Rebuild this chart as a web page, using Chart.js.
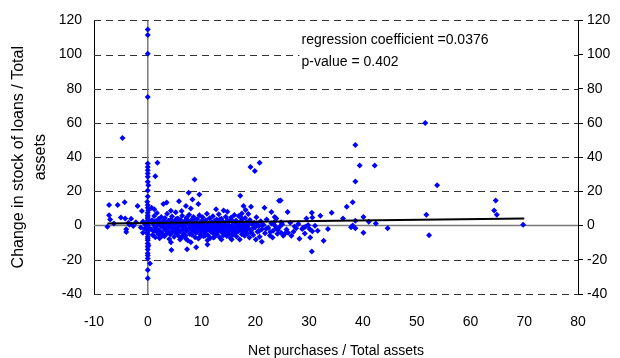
<!DOCTYPE html>
<html>
<head>
<meta charset="utf-8">
<script src="https://cdn.jsdelivr.net/npm/chart.js@4.4.1/dist/chart.umd.min.js"></script>
<style>
  html, body { margin: 0; padding: 0; background: #fff; }
  #wrap { width: 620px; height: 358px; }
</style>
</head>
<body>
<div id="wrap"><canvas id="scatterChart"></canvas></div>
<script>
// x: net purchases / total assets, y: change in stock of loans / total assets
const netPurchases = [
    // column at zero
    0, 0, 0, 0, 0, 0, 0, 0, 0, 0, 0.1, 0, 0, -0.1, 0, 0, 0.1, 0, 0, 0, 0, 0, 0.1, 0, 0,
    0, 0, 0, 0.1, 0, 0, -0.1, 0, 0, 0, 0, 0, 0.1, 0, 0, 0, 0, 0, 0.4, 0, 0,
    // left of zero
    -7.5, -7.2, -7.2, -7.0, -5.6, -5.0, -4.7, -4.3, -4.2, -4.0, -4.0, -3.6, -3.1, -2.7, -1.9, -1.3,
    -1.1, -0.9, -0.9, -0.6, -0.5, -3.4, -2.2, -6.3,
    // scattered upper / lower points of the cluster
    1.8, 1.4, 8.7, 0.7, 1.2, 2.9, 3.5, 5.8, 8.3, 9.4, 7.6, 9.6, 7.1, 8.0, 4.3, 6.3, 4.4, 7.3, 9.0, 8.0,
    19.1, 19.9, 20.8, 17.2, 12.7, 14.1, 14.8, 17.8, 19.2, 18.2, 17.5, 21.7, 23.0, 24.4, 11.1,
    4.3, 7.1, 21.2, 23.2, 20.1, 15.6, 13.7, 12.2, 11.1, 9.6, 6.0, 2.0,
    // dense cluster
    0.6, 0.8, 0.9, 1.0, 1.1, 1.2, 1.3, 1.4, 1.5, 1.6, 1.7, 1.8, 1.9, 2.0, 2.1, 2.2, 2.3, 2.4, 2.5, 2.6, 2.7, 2.8, 2.9, 3.0,
    3.1, 3.2, 3.3, 3.4, 3.5, 3.6, 3.7, 3.8, 3.9, 4.0, 4.1, 4.2, 4.3, 4.4, 4.5, 4.6, 4.7, 4.8, 4.9, 5.0, 5.1, 5.2, 5.3, 5.4, 5.5, 5.6, 5.7, 5.8, 5.9,
    6.0, 6.1, 6.2, 6.3, 6.4, 6.5, 6.6, 6.7, 6.8, 6.9, 7.0, 7.1, 7.2, 7.3, 7.4, 7.5, 7.6, 7.7, 7.8, 7.9, 8.0, 8.1, 8.2, 8.3, 8.4, 8.5, 8.6, 8.7, 8.8, 8.9,
    9.0, 9.1, 9.2, 9.3, 9.4, 9.5, 9.6, 9.7, 9.8, 9.9, 10.0, 10.1, 10.2, 10.3, 10.4, 10.5, 10.6, 10.7, 10.8, 10.9, 11.0, 11.1, 11.2, 11.3, 11.4, 11.5, 11.6, 11.7, 11.8, 11.9,
    12.0, 12.1, 12.2, 12.3, 12.4, 12.5, 12.6, 12.7, 12.8, 12.9, 13.0, 13.1, 13.2, 13.3, 13.4, 13.5, 13.6, 13.7, 13.8, 13.9, 14.0, 14.1, 14.2, 14.3, 14.4, 14.5, 14.6, 14.7, 14.8, 14.9,
    15.0, 15.1, 15.2, 15.3, 15.4, 15.5, 15.6, 15.7, 15.8, 15.9, 16.0, 16.1, 16.2, 16.3, 16.4, 16.5, 16.6, 16.7, 16.8, 16.9, 17.0, 17.1, 17.2, 17.3, 17.4, 17.5, 17.6, 17.7, 17.8, 17.9,
    18.0, 18.1, 18.2, 18.3, 18.4, 18.5, 18.6, 18.7, 18.8, 18.9, 19.0, 19.2, 19.4, 19.6, 19.8, 20.0, 20.2, 20.4, 20.6, 20.8, 21.0,
    21.2, 21.5, 21.8, 22.1, 22.4, 22.7, 23.0, 23.3, 23.6, 23.9, 24.2, 24.5, 24.8,
    1.3, 1.7, 2.2, 2.6, 3.1, 3.5, 3.9, 4.4, 4.8, 5.3, 5.7, 6.2, 6.6, 7.1, 7.5, 8.0, 8.4, 8.9, 9.3, 9.8,
    10.3, 10.7, 11.2, 11.6, 12.1, 12.5, 13.0, 13.4, 13.9, 14.3, 14.8, 15.2, 15.7, 16.1, 16.6, 17.0, 17.5, 17.9,
    18.4, 18.8, 19.3, 19.7, 20.3, 20.7, 21.3, 22.0, 22.8, 23.5, 24.1, 25.0, 25.8, 26.5, 27.3, 28.0, 28.9, 29.8,
    // right part
    23.6, 23.9, 24.7, 24.8, 25.2, 25.5, 26.0, 26.1, 26.7, 27.1, 27.6, 28.2, 28.7, 29.2, 29.3, 29.5, 30.1, 30.2,
    30.5, 30.5, 30.6, 30.6, 31.1, 31.6, 32.1, 32.7, 33.5, 34.2,
    36.3, 37.0, 37.8, 38.1, 38.1, 38.6, 38.6, 38.6, 38.6, 39.4, 40.1, 40.1, 41.1, 42.2, 42.4, 44.6,
    51.6, 51.8, 52.3, 53.8, 64.4, 64.7, 64.9, 69.8
];
const loanChange = [
    114.7, 111.4, 100.5, 75.2, 36.3, 34.3, 32.4, 30.5, 28.5, 25.6, 23.6, 20.5, 17.0, 14.0, 12.0, 10.5, 9.0, 7.5, 6.0, 5.0, 4.0, 3.0, 2.0, 1.0, 0.5,
    0.0, -0.5, -1.0, -1.5, -2.0, -3.0, -4.0, -5.0, -6.5, -7.5, -8.5, -10.4, -11.5, -12.4, -14.0, -16.2, -17.5, -19.2, -22.1, -26.0, -30.8,
    -0.7, 12.0, 6.1, 3.6, 12.0, 4.8, 51.3, 13.7, 4.2, -2.2, -3.8, 1.6, 4.0, -0.3, 11.4, -1.1,
    8.5, -4.2, 2.4, -1.8, 0.8, 0.5, 1.9, 1.2,
    36.7, 28.9, 27.0, 10.4, 9.6, 12.6, 13.5, 14.3, 15.3, 12.7, 19.2, 18.2, 11.4, 10.0, 8.7, 8.5, -14.3, -13.9, -12.6, -9.8,
    34.2, 32.0, 36.7, 17.4, 9.5, 8.9, 8.1, 11.4, 11.0, 9.1, 7.1, 10.4, 7.9, 14.5, -11.0,
    -9.8, -7.7, -9.4, -6.9, -8.1, -8.1, -8.1, -6.9, -8.5, -6.9, -8.1, -5.0,
    -2.1, 3.2, -5.5, 1.1, -3.4, 5.6, -0.8, -6.8, 2.6, -1.9, 7.3, -4.1, 0.4, 3.9, -2.7, -7.4, 1.8, -0.2, 5.0, -3.9, -5.8, 2.2, -1.3, 0.9,
    -6.2, 4.4, -2.5, 1.5, -4.8, 6.9, -0.6, -3.1, 2.9, -7.9, 0.2, -5.1, 3.6, -1.6, 5.3, -3.7, -0.9, 1.2, -6.5, 2.5, -2.2, 7.8, -4.4, 0.6, -1.0, 4.1, -5.9, -2.8, 1.9,
    -3.5, 3.3, -7.1, -0.4, 5.8, -2.0, 1.4, -4.6, -1.2, 2.7, -6.0, 0.3, 4.6, -3.0, -8.6, 1.6, -1.7, 6.4, -4.9, -0.1, 3.0, -2.6, -5.4, 0.8, -1.5, 5.1, -3.3, 2.0, -6.8, -0.5,
    1.3, -4.0, 3.8, -2.3, -7.6, 0.1, 6.1, -1.1, -5.2, 2.4, -3.6, 0.7, 4.9, -1.9, -6.3, 1.7, -0.3, -4.3, 3.1, -2.9, 7.0, -0.8, -5.6, 1.0, -2.4, 4.3, -7.2, 0.5, -3.8, 2.1,
    -1.4, 5.5, -4.5, 0.0, -6.6, 2.8, -2.1, -0.6, 3.5, -5.0, 1.4, -3.2, 6.6, -1.0, -7.0, 0.9, -2.7, 4.0, -4.1, -0.2, 2.3, -5.7, 1.1, -1.8, -3.5, 5.2, -0.7, -6.1, 3.2, -2.5,
    0.4, -4.7, 2.6, -1.3, -7.3, 4.7, -3.0, 0.2, -5.3, 1.8, -2.0, 6.2, -0.9, -4.2, 3.0, -6.4, -1.6, 1.5, -3.4, 5.6, -0.4, -8.2, 2.2, -2.6, 0.6, -5.0, 3.7, -1.1, -3.9, 1.0,
    -6.0, 4.4, -0.5, -2.9, 2.0, -4.8, 0.1, 6.8, -1.7, -7.0, 3.3, -3.2, 0.8, -5.5, 1.7, -1.0, 4.9, -3.6, -0.2, -6.5, 2.5,
    -2.2, 0.5, -4.5, 3.5, -1.4, -5.8, 1.2, -3.0, 0.0, 4.2, -2.6, -0.8, 2.0,
    2.1, -2.9, 0.6, -5.1, 3.0, -1.2, -4.2, 1.7, -2.6, 3.9, -0.4, 1.0, -5.6, -2.5, 2.9, -1.0, 4.0, -3.9, 0.5, -2.0,
    2.9, -5.8, 0.3, -1.6, 2.0, -3.3, -0.9, 3.6, -2.2, 0.7, -4.4, -1.0, 3.0, -3.0, 0.9, -1.8, 4.1, -2.4,
    -0.6, 1.9, -4.4, -1.2, 1.4, -3.1, 0.2, -1.9, -3.7, 1.9, -4.8, 0.8, -2.3, 1.6, -0.5, 0.9, -1.2, 0.4,
    5.1, -1.5, 14.7, -4.2, -6.0, -4.6, 7.9, -4.2, -5.9, -3.6, -1.5, -7.7, -2.0, -4.6, -0.7, 4.2, -2.0, -6.9,
    7.5, -15.1, 4.8, -3.3, -0.1, -3.0, 5.8, -8.9, -2.0, 7.5,
    4.2, 11.0, -0.9, 13.7, 0.1, 25.8, 2.8, -1.5, 47.2, 35.1, 5.1, -4.2, 2.2, 35.1, 1.3, -1.5,
    60.0, 6.3, -5.7, 23.6, 8.9, 14.7, 6.3, 0.5
];

// fitted regression line end points
const fitX = [-7.5, 70];
const fitY = [1.2, 4.1];

const xTicks = [-10, 0, 10, 20, 30, 40, 50, 60, 70, 80];
const yTicks = [-40, -20, 0, 20, 40, 60, 80, 100, 120];

const noteLines = ['regression coefficient =0.0376', 'p-value = 0.402'];

const FONT = '"Liberation Sans", Arial, sans-serif';

const scatterPoints = netPurchases.map((x, i) => ({ x: x, y: loanChange[i] }));
const fitPoints = fitX.map((x, i) => ({ x: x, y: fitY[i] }));

// dashed horizontal grid, solid zero lines, note box
const backdropPlugin = {
    id: 'backdrop',
    beforeDatasetsDraw(chart) {
        const { ctx, chartArea, scales } = chart;
        ctx.save();
        ctx.strokeStyle = '#333';
        ctx.lineWidth = 1;
        ctx.setLineDash([7, 5]);
        yTicks.forEach(v => {
            if (v === 0) return;
            const y = Math.round(scales.y.getPixelForValue(v)) + 0.5;
            ctx.beginPath();
            ctx.moveTo(chartArea.left, y);
            ctx.lineTo(chartArea.right, y);
            ctx.stroke();
        });
        ctx.setLineDash([]);

        // white box behind the note
        const bx = scales.x.getPixelForValue(28.2);
        const by = scales.y.getPixelForValue(117);
        const bx2 = scales.x.getPixelForValue(79.0);
        const by2 = scales.y.getPixelForValue(90);
        ctx.fillStyle = '#fff';
        ctx.fillRect(bx, by, bx2 - bx, by2 - by);

        ctx.strokeStyle = '#7a7a7a';
        ctx.lineWidth = 1.5;
        const y0 = scales.y.getPixelForValue(0);
        ctx.beginPath();
        ctx.moveTo(chartArea.left, y0);
        ctx.lineTo(chartArea.right, y0);
        ctx.stroke();
        const x0 = scales.x.getPixelForValue(0);
        ctx.beginPath();
        ctx.moveTo(x0, chartArea.top);
        ctx.lineTo(x0, chartArea.bottom);
        ctx.stroke();

        ctx.fillStyle = '#000';
        ctx.font = '14px ' + FONT;
        ctx.textBaseline = 'middle';
        ctx.textAlign = 'left';
        const tx = scales.x.getPixelForValue(28.6);
        ctx.fillText(noteLines[0], tx, scales.y.getPixelForValue(108.5));
        ctx.fillText(noteLines[1], tx, scales.y.getPixelForValue(95.7));
        ctx.restore();
    }
};

new Chart(document.getElementById('scatterChart'), {
    type: 'scatter',
    data: {
        datasets: [
            {
                label: 'fit',
                data: fitPoints,
                showLine: true,
                borderColor: '#000',
                borderWidth: 2,
                pointRadius: 0,
                order: 0
            },
            {
                label: 'banks',
                data: scatterPoints,
                pointStyle: 'rectRot',
                pointRadius: 3,
                pointBackgroundColor: '#0000ff',
                pointBorderWidth: 0,
                order: 1
            }
        ]
    },
    options: {
        responsive: true,
        maintainAspectRatio: false,
        animation: false,
        layout: { padding: { top: 20, right: 0, left: 0, bottom: 0 } },
        plugins: {
            legend: { display: false },
            tooltip: { enabled: false }
        },
        scales: {
            x: {
                type: 'linear',
                min: -10,
                max: 80,
                afterBuildTicks: axis => { axis.ticks = xTicks.map(v => ({ value: v })); },
                afterFit: axis => { axis.height = 64; },
                grid: { display: false },
                border: { display: false },
                ticks: {
                    color: '#000',
                    font: { family: FONT, size: 14 },
                    padding: 12,
                    maxRotation: 0
                },
                title: {
                    display: true,
                    text: 'Net purchases / Total assets',
                    color: '#000',
                    font: { family: FONT, size: 14 },
                    padding: { top: 0, bottom: -2 }
                }
            },
            y: {
                type: 'linear',
                position: 'left',
                min: -40,
                max: 120,
                afterBuildTicks: axis => { axis.ticks = yTicks.map(v => ({ value: v })); },
                afterFit: axis => { axis.width = 94; },
                grid: { display: true, drawOnChartArea: false, drawTicks: false },
                border: { display: true, color: '#000', width: 1 },
                ticks: {
                    color: '#000',
                    font: { family: FONT, size: 14 },
                    padding: 12
                },
                title: {
                    display: true,
                    text: ['Change in stock of loans / Total', 'assets'],
                    color: '#000',
                    font: { family: FONT, size: 16, lineHeight: 1.375 },
                    padding: { top: 8, bottom: 0 }
                }
            },
            y2: {
                type: 'linear',
                position: 'right',
                min: -40,
                max: 120,
                afterBuildTicks: axis => { axis.ticks = yTicks.map(v => ({ value: v })); },
                afterFit: axis => { axis.width = 42; },
                grid: { display: true, drawOnChartArea: false, drawTicks: true, tickLength: 5, color: '#000' },
                border: { display: true, color: '#000', width: 1 },
                ticks: {
                    color: '#000',
                    font: { family: FONT, size: 14 },
                    padding: 4
                }
            }
        }
    },
    plugins: [backdropPlugin]
});
</script>
</body>
</html>
